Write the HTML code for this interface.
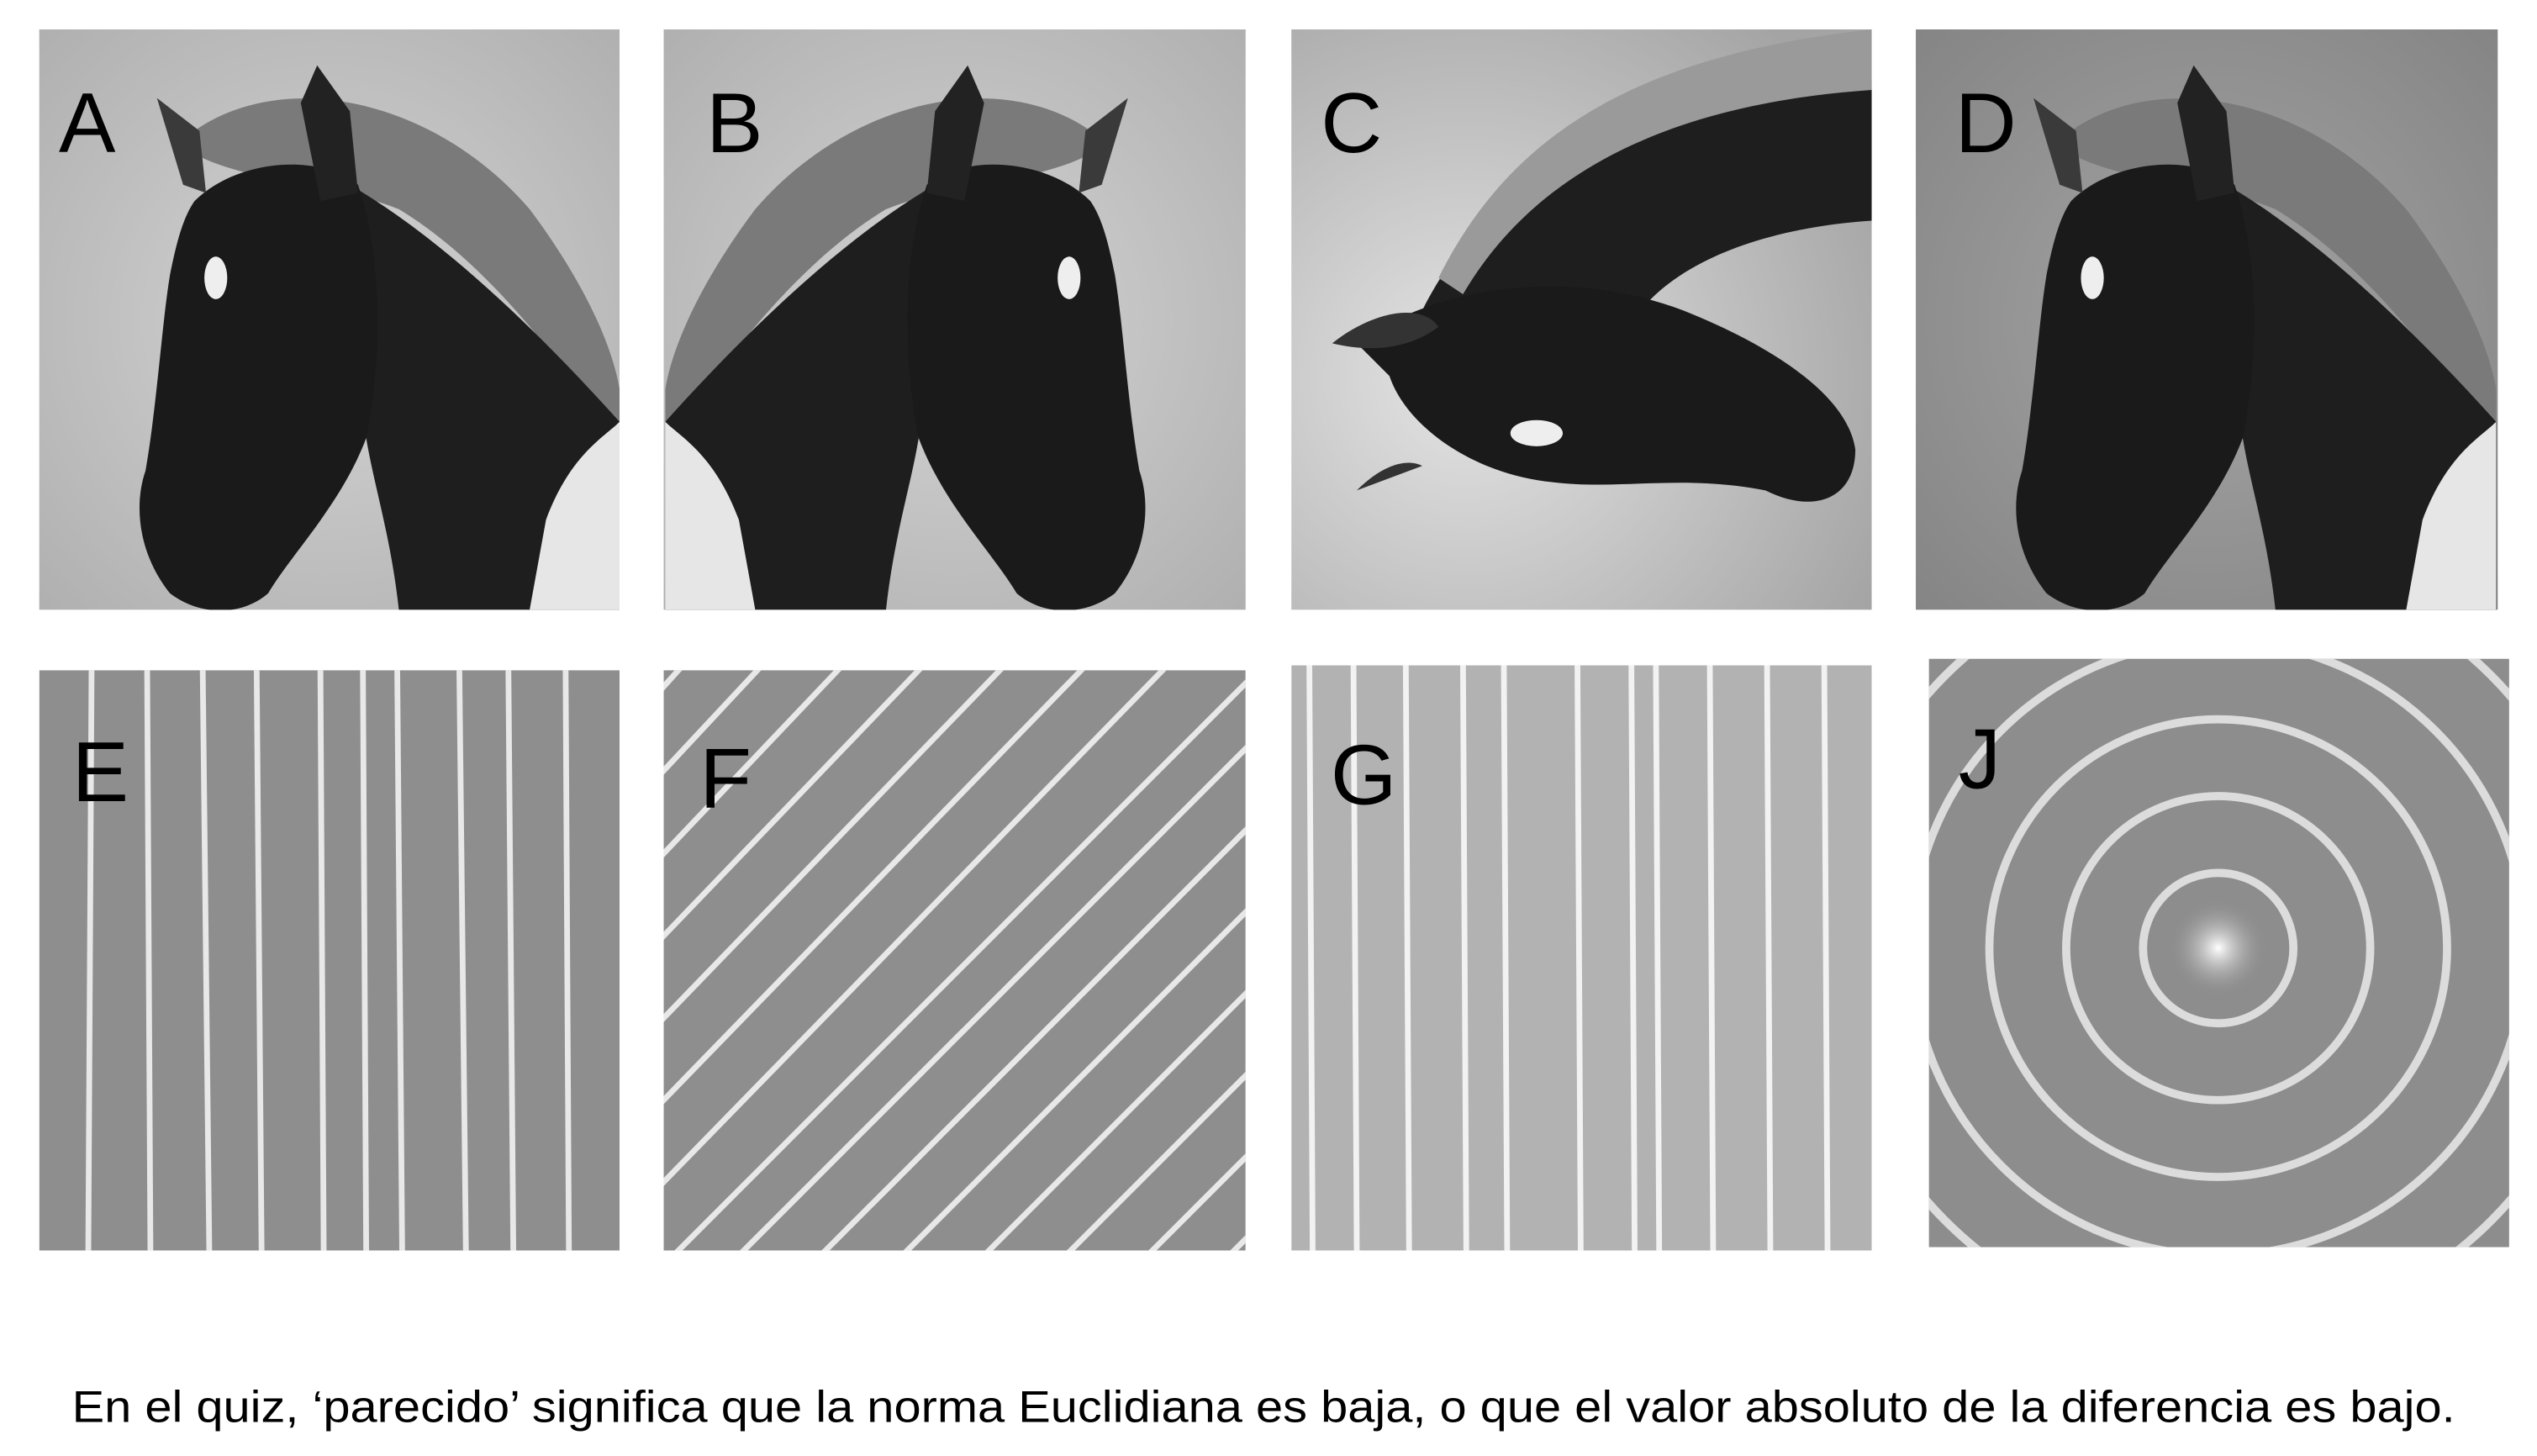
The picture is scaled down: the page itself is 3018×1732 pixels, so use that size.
<!DOCTYPE html>
<html><head><meta charset="utf-8"><style>
html,body{margin:0;padding:0;background:#fff;}
svg{display:block;}
</style></head><body>
<svg width="3018" height="1732" viewBox="0 0 1552 890.7" xmlns="http://www.w3.org/2000/svg">
<defs>
<radialGradient id="bgA" cx="50%" cy="50%" r="70%"><stop offset="0" stop-color="#d4d4d4"/><stop offset="1" stop-color="#b0b0b0"/></radialGradient>
<radialGradient id="bgD" cx="50%" cy="50%" r="70%"><stop offset="0" stop-color="#a4a4a4"/><stop offset="1" stop-color="#858585"/></radialGradient>
<radialGradient id="bgC" cx="30%" cy="60%" r="80%"><stop offset="0" stop-color="#e4e4e4"/><stop offset="1" stop-color="#a4a4a4"/></radialGradient>
<radialGradient id="glow" cx="50%" cy="50%" r="50%"><stop offset="0" stop-color="#ffffff"/><stop offset="1" stop-color="#8d8d8d" stop-opacity="0"/></radialGradient>
<clipPath id="cE"><rect x="24" y="410" width="355" height="355"/></clipPath>
<clipPath id="cF"><rect x="406" y="410" width="356" height="355"/></clipPath>
<clipPath id="cG"><rect x="790" y="407" width="355" height="358"/></clipPath>
<clipPath id="cJ"><rect x="1180" y="403" width="355" height="360"/></clipPath>
<clipPath id="cP"><rect x="0" y="0" width="355" height="355"/></clipPath>
<g id="horse" clip-path="url(#cP)">
  <path d="M85,70 C140,20 240,40 300,110 C330,150 350,190 355,220 L355,260 C320,200 270,140 220,110 C170,90 120,95 85,70 Z" fill="#7a7a7a"/>
  <path d="M190,95 C250,130 310,190 355,240 L355,355 L220,355 C215,310 205,280 200,250 Z" fill="#1e1e1e"/>
  <path d="M95,105 C120,80 170,75 195,95 C210,140 210,200 200,250 C185,290 155,320 140,345 C125,358 100,360 80,345 C60,320 58,290 65,270 C72,230 75,180 80,150 C84,130 88,115 95,105 Z" fill="#1a1a1a"/>
  <path d="M160,45 L170,22 L190,50 L195,100 L172,105 Z" fill="#222"/>
  <path d="M72,42 L98,62 L102,100 L88,95 Z" fill="#3a3a3a"/>
  <ellipse cx="108" cy="152" rx="7" ry="13" fill="#eee"/>
  <path d="M310,300 C325,260 345,250 355,240 L355,355 L300,355 Z" fill="#e6e6e6"/>
</g>
</defs>

<g>
<rect x="24" y="18" width="355" height="355" fill="url(#bgA)"/>
<use href="#horse" x="24" y="18"/>
<text x="36" y="93" font-family="Liberation Sans, sans-serif" font-size="52" fill="#000">A</text>
</g>

<g>
<rect x="406" y="18" width="356" height="355" fill="url(#bgA)"/>
<g transform="translate(762,18) scale(-1,1)"><use href="#horse"/></g>
<text x="432" y="93" font-family="Liberation Sans, sans-serif" font-size="52" fill="#000">B</text>
</g>

<g>
<rect x="790" y="18" width="355" height="355" fill="url(#bgC)"/>
<path d="M870,190 C910,110 990,60 1145,50 L1145,135 C1070,140 1020,165 1000,195 Z" fill="#1e1e1e"/>
<path d="M880,170 C920,90 990,35 1145,18 L1145,55 C1000,65 930,120 895,180 Z" fill="#9a9a9a"/>
<path d="M830,210 C870,180 950,160 1030,190 C1080,210 1130,240 1135,275 C1135,305 1110,315 1080,300 C1030,290 990,300 950,295 C900,290 860,260 850,230 Z" fill="#1a1a1a"/>
<path d="M815,210 C840,190 870,185 880,200 C860,215 835,215 815,210 Z" fill="#333"/>
<path d="M830,300 C845,285 860,280 870,285 Z" fill="#333"/>
<ellipse cx="940" cy="265" rx="16" ry="8" fill="#eee"/>
<text x="808" y="93" font-family="Liberation Sans, sans-serif" font-size="52" fill="#000">C</text>
</g>

<g>
<rect x="1172" y="18" width="356" height="355" fill="url(#bgD)"/>
<use href="#horse" x="1172" y="18"/>
<text x="1196" y="93" font-family="Liberation Sans, sans-serif" font-size="52" fill="#000">D</text>
</g>

<g clip-path="url(#cE)">
<rect x="24" y="410" width="355" height="355" fill="#8e8e8e"/>
<g stroke="#e8e8e8" stroke-width="3.5" fill="none">
<path d="M56,410 L54,765"/><path d="M90,410 L92,765"/><path d="M124,410 L128,765"/>
<path d="M157,410 L160,765"/><path d="M196,410 L198,765"/><path d="M222,410 L224,765"/>
<path d="M243,410 L246,765"/><path d="M281,410 L285,765"/><path d="M311,410 L314,765"/>
<path d="M346,410 L348,765"/>
</g>
</g>
<text x="44" y="490" font-family="Liberation Sans, sans-serif" font-size="52" fill="#000">E</text>

<g clip-path="url(#cF)">
<rect x="406" y="410" width="356" height="355" fill="#8e8e8e"/>
<g stroke="#e8e8e8" stroke-width="3.5" fill="none">
<path d="M370,560 L560,360"/><path d="M370,610 L610,360"/><path d="M370,660 L660,360"/>
<path d="M370,710 L710,360"/><path d="M370,760 L760,360"/><path d="M390,790 L800,380"/>
<path d="M430,790 L820,400"/><path d="M480,790 L850,420"/><path d="M530,790 L880,440"/>
<path d="M580,790 L900,470"/><path d="M630,790 L920,500"/><path d="M680,790 L940,530"/>
<path d="M730,790 L960,560"/><path d="M370,510 L510,360"/><path d="M370,460 L460,360"/>
</g>
</g>
<text x="428" y="494" font-family="Liberation Sans, sans-serif" font-size="52" fill="#000">F</text>

<g clip-path="url(#cG)">
<rect x="790" y="407" width="355" height="358" fill="#b2b2b2"/>
<g stroke="#f2f2f2" stroke-width="3.5" fill="none">
<path d="M801,407 L803,765"/><path d="M828,407 L830,765"/><path d="M860,407 L862,765"/>
<path d="M895,407 L897,765"/><path d="M920,407 L922,765"/><path d="M965,407 L967,765"/>
<path d="M998,407 L1000,765"/><path d="M1013,407 L1015,765"/><path d="M1046,407 L1048,765"/>
<path d="M1081,407 L1083,765"/><path d="M1116,407 L1118,765"/>
</g>
</g>
<text x="814" y="492" font-family="Liberation Sans, sans-serif" font-size="52" fill="#000">G</text>

<g clip-path="url(#cJ)">
<rect x="1180" y="403" width="355" height="360" fill="#8d8d8d"/>
<circle cx="1357" cy="580" r="30" fill="url(#glow)"/>
<g stroke="#dcdcdc" stroke-width="5" fill="none">
<circle cx="1357" cy="580" r="46"/><circle cx="1357" cy="580" r="93"/>
<circle cx="1357" cy="580" r="140"/><circle cx="1357" cy="580" r="188"/>
<circle cx="1357" cy="580" r="236"/>
</g>
</g>
<text x="1198" y="482" font-family="Liberation Sans, sans-serif" font-size="52" fill="#000">J</text>

<text x="44" y="870" font-family="Liberation Sans, sans-serif" font-size="27" textLength="1458" lengthAdjust="spacingAndGlyphs" fill="#000">En el quiz, ‘parecido’ significa que la norma Euclidiana es baja, o que el valor absoluto de la diferencia es bajo.</text>
</svg>
</body></html>
